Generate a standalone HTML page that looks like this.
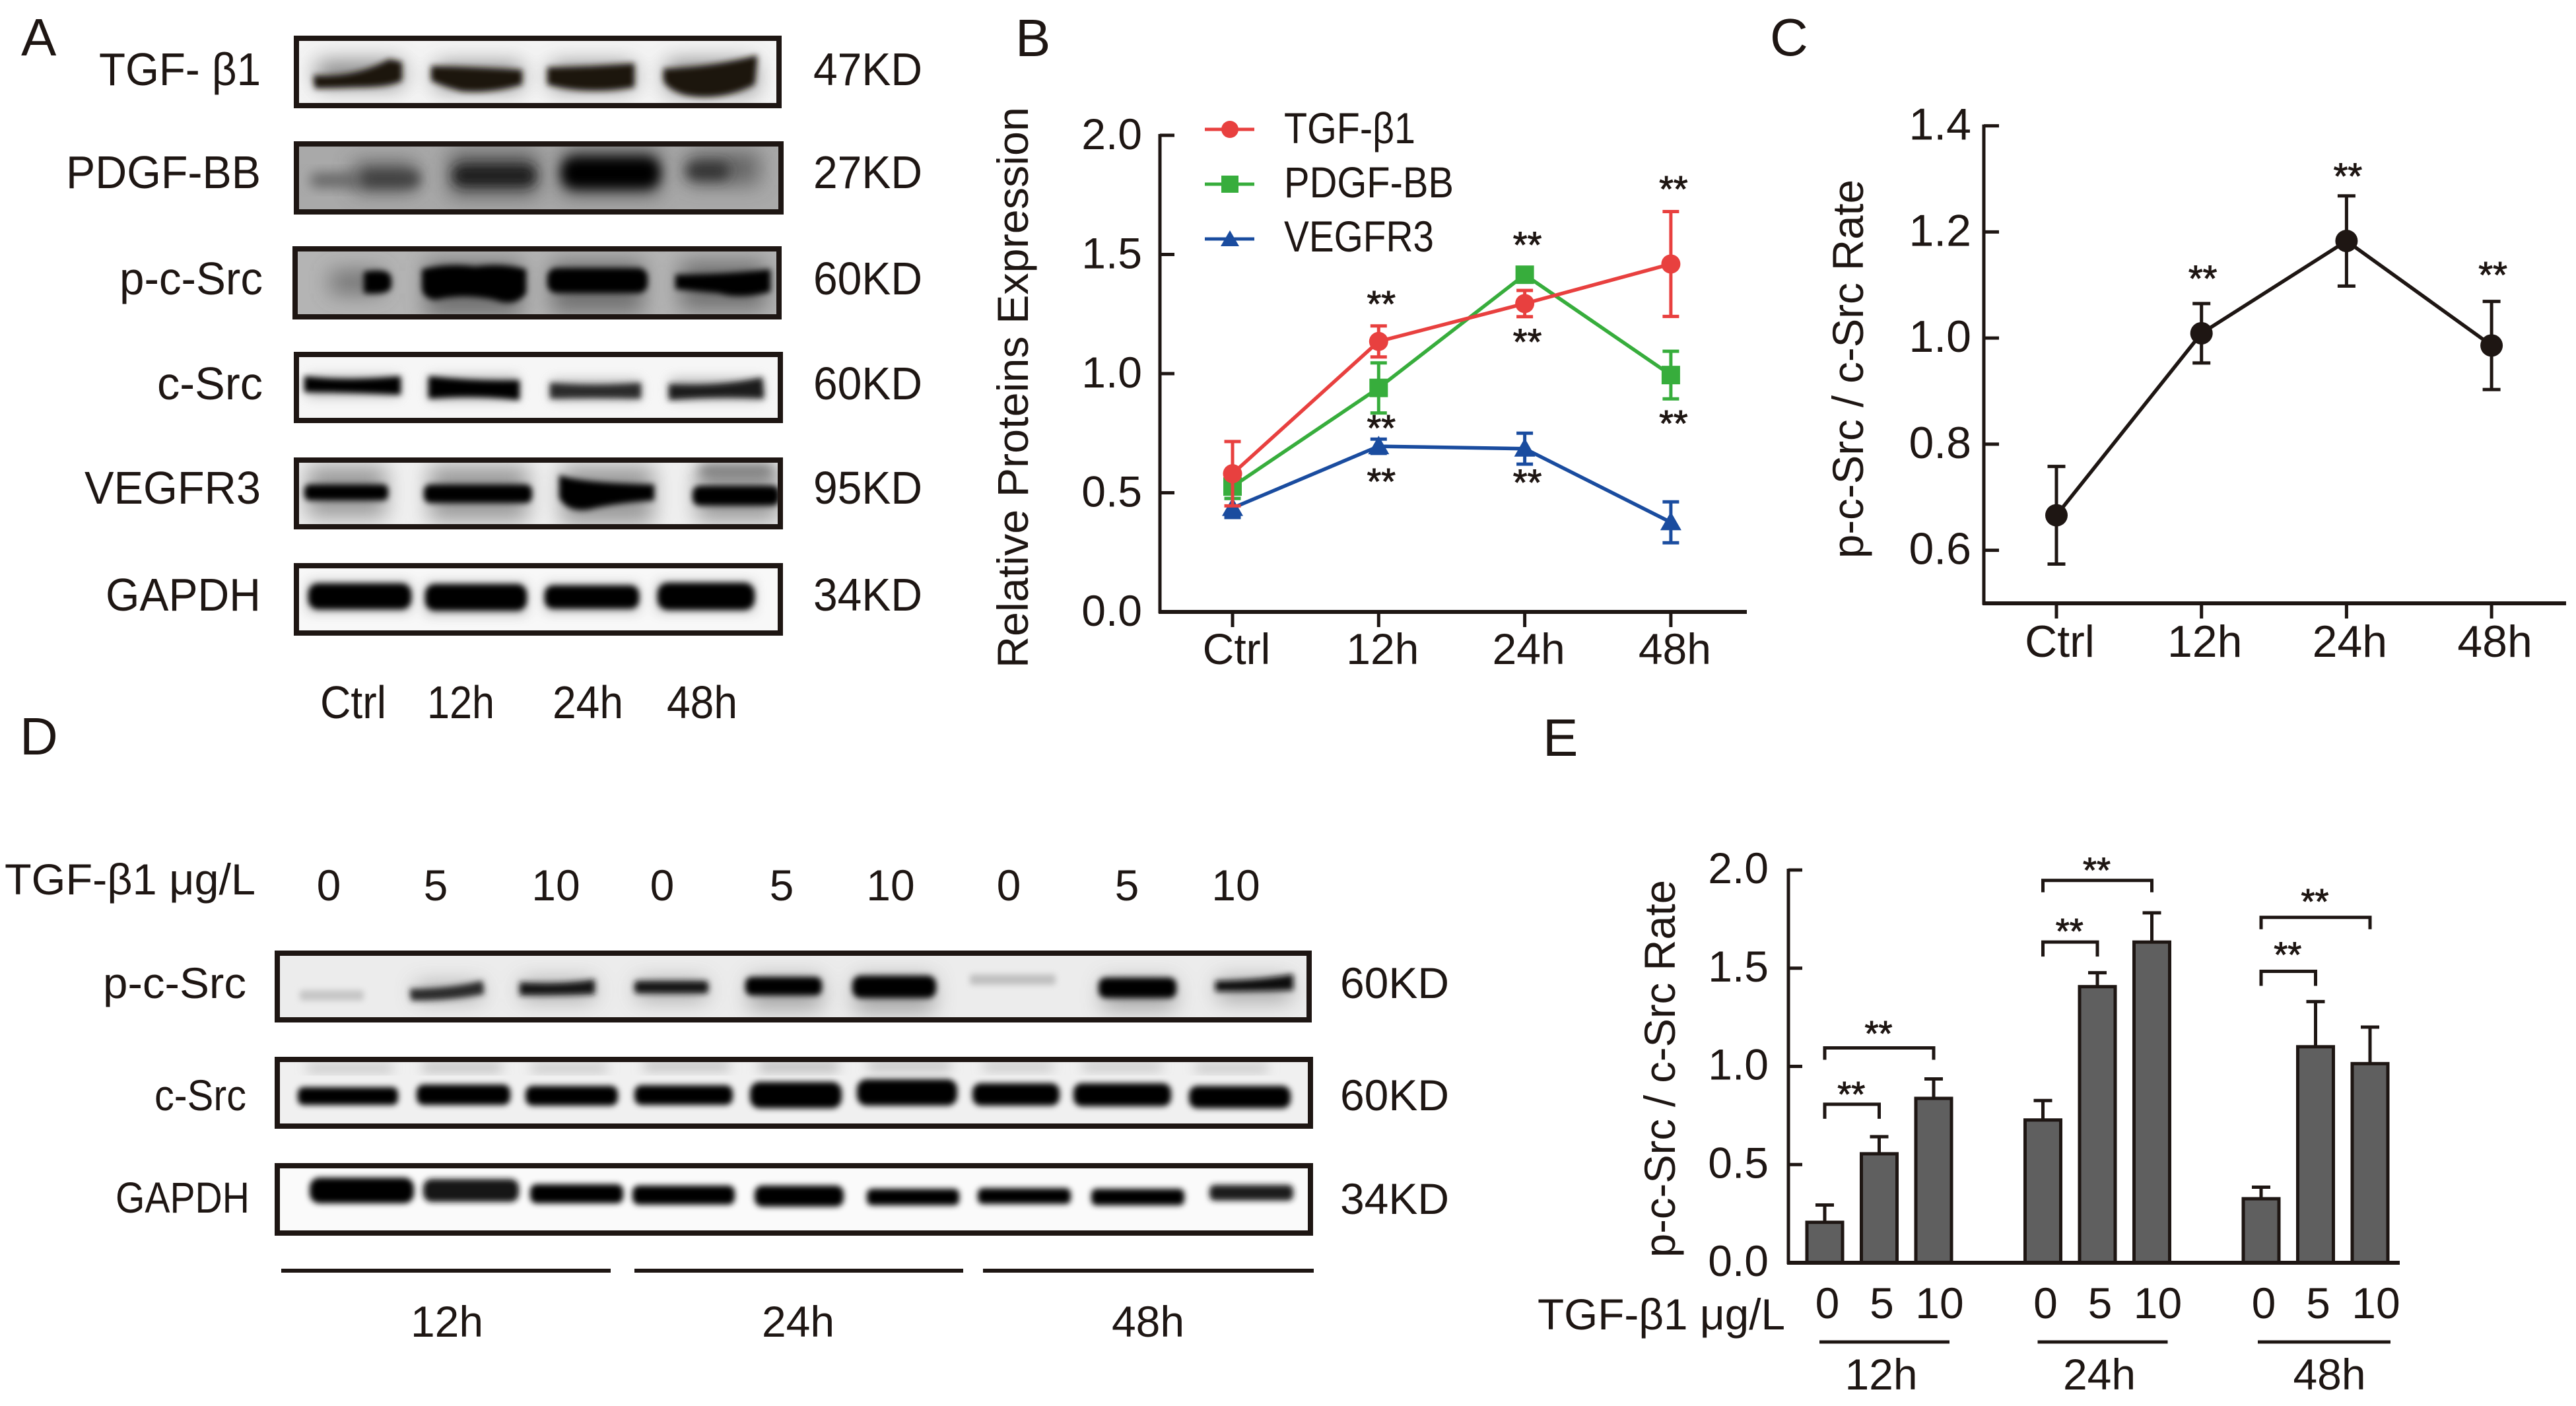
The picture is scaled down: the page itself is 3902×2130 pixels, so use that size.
<!DOCTYPE html>
<html lang="en">
<head>
<meta charset="utf-8">
<title>Western blot and quantification figure</title>
<style>
html,body{margin:0;padding:0;background:#fff;}
svg{display:block;}
text{font-family:"Liberation Sans","DejaVu Sans",sans-serif;fill:#1e1613;}
.f{fill:none;stroke:#1e1613;stroke-width:8;}
.k{fill:#050404;}
.h{fill:#5a5a5a;}
</style>
</head>
<body>
<svg id="fig" xmlns="http://www.w3.org/2000/svg" width="3902" height="2130" viewBox="0 0 3902 2130">
<defs>
<filter id="bs" x="-30%" y="-100%" width="160%" height="300%"><feGaussianBlur stdDeviation="16"/></filter>
<filter id="bm" x="-20%" y="-60%" width="140%" height="220%"><feGaussianBlur stdDeviation="9"/></filter>
<filter id="bc" x="-10%" y="-40%" width="120%" height="180%"><feMorphology operator="dilate" radius="1 4"/><feGaussianBlur stdDeviation="4.5"/></filter>
<clipPath id="ca1"><rect x="446" y="54" width="738" height="110"/></clipPath>
<clipPath id="ca2"><rect x="445" y="214" width="742" height="110"/></clipPath>
<clipPath id="ca3"><rect x="443" y="373" width="741" height="110"/></clipPath>
<clipPath id="ca4"><rect x="446" y="533" width="740" height="107"/></clipPath>
<clipPath id="ca5"><rect x="446" y="693" width="740" height="108"/></clipPath>
<clipPath id="ca6"><rect x="446" y="853" width="740" height="110"/></clipPath>
<clipPath id="cd1"><rect x="416" y="1440" width="1571" height="109"/></clipPath>
<clipPath id="cd2"><rect x="416" y="1601" width="1573" height="109"/></clipPath>
<clipPath id="cd3"><rect x="416" y="1762" width="1573" height="110"/></clipPath>
</defs>
<rect width="3902" height="2130" fill="#fff"/>

<!-- Panel letters -->
<text x="32" y="84" font-size="80">A</text>
<text x="1538" y="85" font-size="80">B</text>
<text x="2681" y="84" font-size="80">C</text>
<text x="30" y="1143" font-size="80">D</text>
<text x="2337" y="1145" font-size="80">E</text>

<!-- Panel A blots -->
<g>
 <g>
  <g clip-path="url(#ca1)">
   <rect x="446" y="54" width="738" height="110" fill="#f4f4f4"/>
   <g filter="url(#bs)" class="h" opacity=".7">
    <rect x="480" y="92" width="130" height="40"/><rect x="660" y="96" width="130" height="40"/><rect x="835" y="96" width="125" height="40"/><rect x="1010" y="92" width="135" height="50"/>
   </g>
   <g filter="url(#bc)" fill="#1e1410">
    <path d="M476 118 Q540 122 590 94 L608 98 L608 118 Q590 128 540 128 L478 130Z"/>
    <path d="M654 104 Q720 106 790 110 L790 124 Q740 138 700 134 Q670 126 654 118Z"/>
    <path d="M830 106 Q890 106 960 100 L960 128 Q890 140 830 124Z"/>
    <path d="M1006 108 Q1080 106 1146 88 L1142 124 Q1090 150 1040 140 Q1012 132 1006 118Z"/>
   </g>
  </g>
  <rect class="f" x="449" y="58" width="731" height="102"/>
 </g>
 <g>
  <g clip-path="url(#ca2)">
   <rect x="445" y="214" width="742" height="110" fill="#a9a9a9"/>
   <g filter="url(#bs)" fill="#4c4c4c" opacity=".75">
    <rect x="535" y="245" width="95" height="45"/><rect x="680" y="228" width="135" height="70"/><rect x="850" y="222" width="150" height="75"/><rect x="1040" y="230" width="110" height="50"/>
   </g>
   <g filter="url(#bm)" fill="#666"><rect x="470" y="262" width="80" height="22" rx="10"/></g>
   <g filter="url(#bm)">
    <rect x="546" y="258" width="90" height="26" rx="12" fill="#404040"/>
    <rect x="686" y="250" width="126" height="32" rx="14" fill="#1a1a1a"/>
    <rect x="850" y="238" width="150" height="48" rx="20" fill="#050505"/>
    <rect x="1040" y="246" width="64" height="26" rx="12" fill="#333"/>
   </g>
  </g>
  <rect class="f" x="449" y="218" width="734" height="103"/>
 </g>
 <g>
  <g clip-path="url(#ca3)">
   <rect x="443" y="373" width="741" height="110" fill="#b4b4b4"/>
   <g filter="url(#bs)" fill="#5c5c5c" opacity=".75">
    <rect x="645" y="395" width="145" height="85"/><rect x="835" y="395" width="140" height="80"/><rect x="1030" y="395" width="130" height="75"/><rect x="500" y="410" width="80" height="35"/>
   </g>
   <g filter="url(#bc)" class="k">
    <path d="M552 416 Q592 408 592 428 Q592 444 552 440Z"/>
    <path d="M640 412 Q680 402 720 408 Q760 402 796 412 L796 440 Q780 462 750 450 Q700 440 660 450 Q640 448 640 430Z"/>
    <rect x="830" y="410" width="150" height="30" rx="14"/>
    <path d="M1024 420 Q1100 420 1166 412 L1166 438 Q1120 450 1090 440 L1024 434Z"/>
   </g>
  </g>
  <rect class="f" x="447" y="377" width="733" height="103"/>
 </g>
 <g>
  <g clip-path="url(#ca4)">
   <rect x="446" y="533" width="740" height="107" fill="#f6f6f6"/>
   <g filter="url(#bm)" fill="#8f8f8f" opacity=".65">
    <rect x="465" y="570" width="140" height="30"/><rect x="650" y="570" width="135" height="36"/><rect x="835" y="576" width="135" height="30"/><rect x="1015" y="574" width="140" height="32"/>
   </g>
   <g filter="url(#bc)" class="k">
    <path d="M462 574 Q520 582 606 574 L606 594 Q530 590 462 590Z"/>
    <path d="M650 574 Q720 582 786 580 L786 602 Q720 594 650 600Z"/>
    <path d="M834 584 Q900 590 970 584 L970 600 Q900 598 834 600Z" fill="#2a2a2a"/>
    <path d="M1014 586 Q1090 590 1154 576 L1156 600 Q1090 596 1014 602Z" fill="#1c1c1c"/>
   </g>
  </g>
  <rect class="f" x="449" y="537" width="733" height="100"/>
 </g>
 <g>
  <g clip-path="url(#ca5)">
   <rect x="446" y="693" width="740" height="108" fill="#f0f0f0"/>
   <g filter="url(#bs)" fill="#777" opacity=".7">
    <rect x="465" y="705" width="120" height="80"/><rect x="650" y="705" width="150" height="85"/><rect x="850" y="705" width="140" height="90"/><rect x="1055" y="705" width="125" height="85"/>
   </g>
   <g filter="url(#bm)" fill="#6a6a6a"><rect x="1060" y="706" width="110" height="14"/></g>
   <g filter="url(#bc)" class="k">
    <rect x="462" y="738" width="125" height="16" rx="8"/>
    <rect x="643" y="738" width="162" height="20" rx="10"/>
    <path d="M848 724 Q880 736 990 738 L990 754 Q930 758 890 768 Q860 772 848 750Z"/>
    <rect x="1050" y="740" width="130" height="22" rx="11"/>
   </g>
  </g>
  <rect class="f" x="449" y="697" width="733" height="101"/>
 </g>
 <g>
  <g clip-path="url(#ca6)">
   <rect x="446" y="853" width="740" height="110" fill="#f8f8f8"/>
   <g filter="url(#bm)" fill="#6a6a6a" opacity=".5">
    <rect x="467" y="882" width="155" height="44"/><rect x="645" y="884" width="152" height="46"/><rect x="826" y="886" width="141" height="40"/><rect x="996" y="882" width="146" height="44"/>
   </g>
   <g filter="url(#bc)" class="k">
    <rect x="468" y="888" width="154" height="31" rx="15"/>
    <rect x="645" y="889" width="152" height="32" rx="15"/>
    <rect x="826" y="891" width="141" height="27" rx="13"/>
    <rect x="997" y="887" width="145" height="33" rx="16"/>
   </g>
  </g>
  <rect class="f" x="449" y="857" width="733" height="102"/>
 </g>
</g>

<g font-size="70">
 <text x="150" y="129" textLength="245" lengthAdjust="spacingAndGlyphs">TGF- β1</text>
 <text x="100" y="285" textLength="295" lengthAdjust="spacingAndGlyphs">PDGF-BB</text>
 <text x="181" y="446" textLength="217" lengthAdjust="spacingAndGlyphs">p-c-Src</text>
 <text x="238" y="605" textLength="160" lengthAdjust="spacingAndGlyphs">c-Src</text>
 <text x="128" y="763" textLength="267" lengthAdjust="spacingAndGlyphs">VEGFR3</text>
 <text x="160" y="925" textLength="235" lengthAdjust="spacingAndGlyphs">GAPDH</text>
 <text x="1232" y="129" textLength="165" lengthAdjust="spacingAndGlyphs">47KD</text>
 <text x="1232" y="285" textLength="165" lengthAdjust="spacingAndGlyphs">27KD</text>
 <text x="1232" y="446" textLength="165" lengthAdjust="spacingAndGlyphs">60KD</text>
 <text x="1232" y="605" textLength="165" lengthAdjust="spacingAndGlyphs">60KD</text>
 <text x="1232" y="763" textLength="165" lengthAdjust="spacingAndGlyphs">95KD</text>
 <text x="1232" y="925" textLength="165" lengthAdjust="spacingAndGlyphs">34KD</text>
 <text x="485" y="1088" textLength="100" lengthAdjust="spacingAndGlyphs">Ctrl</text>
 <text x="647" y="1088" textLength="102" lengthAdjust="spacingAndGlyphs">12h</text>
 <text x="837" y="1088" textLength="107" lengthAdjust="spacingAndGlyphs">24h</text>
 <text x="1010" y="1088" textLength="107" lengthAdjust="spacingAndGlyphs">48h</text>
</g>

<!-- Panel D blots -->
<g>
 <g>
  <g clip-path="url(#cd1)">
   <rect x="416" y="1440" width="1571" height="109" fill="#ececec"/>
   <g filter="url(#bs)" fill="#8a8a8a" opacity=".7">
    <rect x="630" y="1490" width="100" height="25"/><rect x="790" y="1485" width="110" height="30"/><rect x="965" y="1485" width="105" height="30"/><rect x="1135" y="1480" width="110" height="50"/><rect x="1295" y="1480" width="120" height="55"/><rect x="1670" y="1485" width="110" height="45"/><rect x="1845" y="1482" width="110" height="35"/>
   </g>
   <g filter="url(#bc)">
    <rect x="455" y="1504" width="95" height="8" rx="4" fill="#c6c6c6"/>
    <path d="M622 1502 Q680 1502 730 1490 L732 1502 Q680 1512 624 1512Z" fill="#2b2b2b"/>
    <path d="M788 1492 Q850 1496 900 1488 L900 1502 Q850 1504 788 1504Z" fill="#151515"/>
    <rect x="962" y="1490" width="110" height="11" rx="5" fill="#151515"/>
    <rect x="1130" y="1484" width="114" height="20" rx="10" class="k"/>
    <rect x="1292" y="1482" width="125" height="26" rx="13" class="k"/>
    <rect x="1470" y="1480" width="128" height="8" rx="4" fill="#c0c0c0"/>
    <rect x="1665" y="1485" width="116" height="23" rx="11" class="k"/>
    <path d="M1842 1490 Q1900 1490 1958 1480 L1958 1496 Q1900 1498 1842 1498Z" fill="#111"/>
   </g>
  </g>
  <rect class="f" x="420" y="1444" width="1563" height="101"/>
 </g>
 <g>
  <g clip-path="url(#cd2)">
   <rect x="416" y="1601" width="1573" height="109" fill="#f0f0f0"/>
   <g filter="url(#bm)" fill="#a8a8a8">
    <rect x="465" y="1614" width="130" height="8"/><rect x="640" y="1612" width="120" height="10"/><rect x="805" y="1614" width="115" height="8"/><rect x="975" y="1610" width="130" height="10"/><rect x="1150" y="1610" width="120" height="12"/><rect x="1315" y="1610" width="125" height="10"/><rect x="1490" y="1612" width="105" height="8"/><rect x="1640" y="1612" width="120" height="8"/><rect x="1810" y="1614" width="110" height="8"/>
   </g>
   <g filter="url(#bc)" class="k">
    <rect x="452" y="1651" width="150" height="19" rx="9"/>
    <rect x="632" y="1647" width="140" height="23" rx="11"/>
    <rect x="797" y="1649" width="138" height="22" rx="11"/>
    <rect x="962" y="1648" width="147" height="22" rx="11"/>
    <rect x="1137" y="1643" width="137" height="32" rx="15"/>
    <rect x="1299" y="1639" width="150" height="32" rx="15"/>
    <rect x="1474" y="1645" width="130" height="26" rx="13"/>
    <rect x="1627" y="1645" width="146" height="27" rx="13"/>
    <rect x="1802" y="1649" width="152" height="26" rx="13"/>
   </g>
  </g>
  <rect class="f" x="420" y="1605" width="1565" height="101"/>
 </g>
 <g>
  <g clip-path="url(#cd3)">
   <rect x="416" y="1762" width="1573" height="110" fill="#fafafa"/>
   <g filter="url(#bc)" class="k">
    <rect x="470" y="1788" width="156" height="31" rx="15"/>
    <rect x="642" y="1790" width="143" height="27" rx="13" fill="#141414"/>
    <rect x="804" y="1798" width="139" height="21" rx="10"/>
    <rect x="959" y="1800" width="153" height="21" rx="10"/>
    <rect x="1144" y="1800" width="133" height="24" rx="12"/>
    <rect x="1314" y="1805" width="138" height="17" rx="8"/>
    <rect x="1482" y="1804" width="139" height="16" rx="8"/>
    <rect x="1654" y="1805" width="139" height="17" rx="8"/>
    <rect x="1833" y="1799" width="125" height="16" rx="8" fill="#1c1c1c"/>
   </g>
  </g>
  <rect class="f" x="420" y="1766" width="1565" height="102"/>
 </g>
</g>

<g font-size="66">
 <text x="7" y="1355" textLength="380" lengthAdjust="spacingAndGlyphs">TGF-β1 μg/L</text>
 <text x="498" y="1364" text-anchor="middle">0</text>
 <text x="660" y="1364" text-anchor="middle">5</text>
 <text x="842" y="1364" text-anchor="middle">10</text>
 <text x="1003" y="1364" text-anchor="middle">0</text>
 <text x="1184" y="1364" text-anchor="middle">5</text>
 <text x="1349" y="1364" text-anchor="middle">10</text>
 <text x="1528" y="1364" text-anchor="middle">0</text>
 <text x="1707" y="1364" text-anchor="middle">5</text>
 <text x="1872" y="1364" text-anchor="middle">10</text>
 <text x="156" y="1512" textLength="217" lengthAdjust="spacingAndGlyphs">p-c-Src</text>
 <text x="234" y="1682" textLength="139" lengthAdjust="spacingAndGlyphs">c-Src</text>
 <text x="175" y="1837" textLength="203" lengthAdjust="spacingAndGlyphs">GAPDH</text>
 <text x="2030" y="1512" textLength="165" lengthAdjust="spacingAndGlyphs">60KD</text>
 <text x="2030" y="1682" textLength="165" lengthAdjust="spacingAndGlyphs">60KD</text>
 <text x="2030" y="1839" textLength="165" lengthAdjust="spacingAndGlyphs">34KD</text>
 <text x="677" y="2025" text-anchor="middle">12h</text>
 <text x="1209" y="2025" text-anchor="middle">24h</text>
 <text x="1739" y="2025" text-anchor="middle">48h</text>
</g>
<g stroke="#1e1613" stroke-width="6">
 <line x1="426" x2="925" y1="1925" y2="1925"/>
 <line x1="961" x2="1459" y1="1925" y2="1925"/>
 <line x1="1489" x2="1990" y1="1925" y2="1925"/>
</g>

<!-- Chart groups filled by script -->
<g id="chart-b">
 <text x="0" y="0" font-size="66" transform="translate(1557 1012) rotate(-90)" textLength="850" lengthAdjust="spacingAndGlyphs">Relative Proteins Expression</text>
</g>
<g>
 <g>
  <line x1="1825" x2="1900" y1="196" y2="196" stroke="#e8403f" stroke-width="5"/>
  <circle cx="1863" cy="196" r="13" fill="#e8403f"/>
  <text x="1945" y="217" font-size="66" textLength="199" lengthAdjust="spacingAndGlyphs">TGF-β1</text>
 </g>
 <g>
  <line x1="1825" x2="1900" y1="279" y2="279" stroke="#37ad3c" stroke-width="5"/>
  <rect x="1850" y="266" width="26" height="26" fill="#37ad3c"/>
  <text x="1945" y="299" font-size="66" textLength="257" lengthAdjust="spacingAndGlyphs">PDGF-BB</text>
 </g>
 <g>
  <line x1="1825" x2="1900" y1="362" y2="362" stroke="#1a4c9f" stroke-width="5"/>
  <polygon points="1863,349 1877,373 1849,373" fill="#1a4c9f"/>
  <text x="1945" y="381" font-size="66" textLength="227" lengthAdjust="spacingAndGlyphs">VEGFR3</text>
 </g>
</g>
<g id="chart-c">
 <text x="0" y="0" font-size="66" transform="translate(2822 846) rotate(-90)" textLength="574" lengthAdjust="spacingAndGlyphs">p-c-Src / c-Src Rate</text>
</g>
<g id="chart-e">
 <text x="0" y="0" font-size="66" transform="translate(2537 1905) rotate(-90)" textLength="572" lengthAdjust="spacingAndGlyphs">p-c-Src / c-Src Rate</text>
 <text x="2329" y="2014" font-size="66" textLength="375" lengthAdjust="spacingAndGlyphs">TGF-β1 μg/L</text>
</g>

<script>
// Chart B data
const bCategories = ['Ctrl', '12h', '24h', '48h'];
const bTickValues = [0, 0.5, 1, 1.5, 2];
const bTickLabels = ['0.0', '0.5', '1.0', '1.5', '2.0'];
const bTgf = [0.58, 1.135, 1.294, 1.46];
const bTgfErr = [0.135, 0.065, 0.055, 0.22];
const bPdgf = [0.526, 0.94, 1.415, 0.994];
const bPdgfErr = [0.05, 0.105, 0.02, 0.1];
const bVegfr = [0.436, 0.695, 0.685, 0.376];
const bVegfrErr = [0.04, 0.03, 0.065, 0.086];
const bStarCats = [1, 2, 2, 3, 1, 1, 2, 3];
const bStarLevels = [1.309, 1.556, 1.15, 1.79, 0.788, 0.564, 0.56, 0.807];

// Chart C data
const cCategories = ['Ctrl', '12h', '24h', '48h'];
const cTickValues = [0.6, 0.8, 1.0, 1.2, 1.4];
const cTickLabels = ['0.6', '0.8', '1.0', '1.2', '1.4'];
const cRate = [0.666, 1.009, 1.183, 0.986];
const cRateErr = [0.092, 0.056, 0.085, 0.083];
const cStarCats = [1, 2, 3];
const cStarLevels = [1.117, 1.31, 1.124];

// Chart E data
const eGroups = ['12h', '24h', '48h'];
const eDoses = ['0', '5', '10'];
const eTickValues = [0, 0.5, 1, 1.5, 2];
const eTickLabels = ['0.0', '0.5', '1.0', '1.5', '2.0'];
const eRate12h = [0.206, 0.555, 0.837];
const eRate24h = [0.727, 1.406, 1.633];
const eRate48h = [0.326, 1.10, 1.014];
const eErr12h = [0.088, 0.087, 0.099];
const eErr24h = [0.099, 0.071, 0.149];
const eErr48h = [0.059, 0.23, 0.186];
const eBracketGroups = [0, 0, 1, 1, 2, 2];
const eBracketEnds = [1, 2, 1, 2, 1, 2];
const eBracketLevels = [0.807, 1.094, 1.633, 1.947, 1.484, 1.759];
const eStarLevels = [0.883, 1.193, 1.713, 2.025, 1.594, 1.865];

const NS = 'http://www.w3.org/2000/svg';
const INK = '#1e1613';
function mk(tag, parent, attrs) {
  const el = document.createElementNS(NS, tag);
  for (const k in attrs) el.setAttribute(k, attrs[k]);
  parent.appendChild(el);
  return el;
}
function txt(parent, x, y, str, anchor, size) {
  const el = mk('text', parent, {x: x, y: y, 'text-anchor': anchor, 'font-size': size});
  el.textContent = str;
  return el;
}
function seg(parent, x1, y1, x2, y2, color, w) {
  return mk('line', parent, {x1: x1, y1: y1, x2: x2, y2: y2, stroke: color, 'stroke-width': w});
}
function errorBar(parent, x, yTop, yBot, color, cap, w) {
  const g = mk('g', parent, {});
  seg(g, x, yTop, x, yBot, color, w);
  seg(g, x - cap / 2, yTop, x + cap / 2, yTop, color, w);
  seg(g, x - cap / 2, yBot, x + cap / 2, yBot, color, w);
  return g;
}
function stars(parent, cx, cy, size, dy) {
  const el = txt(parent, cx, cy + size * 0.57 + dy, '**', 'middle', size);
  el.setAttribute('stroke', INK);
  el.setAttribute('stroke-width', '1');
  return el;
}

// ---------- Chart B ----------
(function () {
  const g = document.getElementById('chart-b');
  const x = i => 1867 + 221.3 * i;
  const y = v => 927 - v * 361;
  const yAxis = seg(g, 1757, y(2) - 2, 1757, y(0) + 2, INK, 5);
  
  
  const xAxis = seg(g, 1755, y(0), 2646, y(0), INK, 6);
  
  
  bTickValues.forEach((v, i) => {
    const t = seg(g, 1757, y(v), 1779, y(v), INK, 5);
    
    
    const l = txt(g, 1730, y(v) + 21, bTickLabels[i], 'end', 66);
    
    
  });
  bCategories.forEach((c, i) => {
    const t = seg(g, x(i), y(0), x(i), 950, INK, 5);
    
    
    const l = txt(g, x(i) + 6, 1006, c, 'middle', 66);
    
    
  });
  function series(name, vals, errs, color, shape) {
    const s = mk('g', g, {});
    
    
    const line = mk('polyline', s, {fill: 'none', stroke: color, 'stroke-width': 5.5, points: vals.map((v, i) => x(i) + ',' + y(v)).join(' ')});
    
    
    vals.forEach((v, i) => {
      const e = errorBar(s, x(i), y(v + errs[i]), y(v - errs[i]), color, 25, 5);
      
      
      let m;
      if (shape === 'circle') m = mk('circle', s, {cx: x(i), cy: y(v), r: 14.5, fill: color});
      if (shape === 'square') m = mk('rect', s, {x: x(i) - 14, y: y(v) - 14, width: 28, height: 28, fill: color});
      if (shape === 'triangle') m = mk('polygon', s, {points: (x(i)) + ',' + (y(v) - 16) + ' ' + (x(i) + 16) + ',' + (y(v) + 12) + ' ' + (x(i) - 16) + ',' + (y(v) + 12), fill: color});
      
      
    });
  }
  series('vegfr3', bVegfr, bVegfrErr, '#1a4c9f', 'triangle');
  series('pdgf-bb', bPdgf, bPdgfErr, '#37ad3c', 'square');
  series('tgf-beta1', bTgf, bTgfErr, '#e8403f', 'circle');
  bStarLevels.forEach((v, i) => {
    const s = stars(g, x(bStarCats[i]) + 4, y(v), 56, -7);
    
    
  });
})();

// ---------- Chart C ----------
(function () {
  const g = document.getElementById('chart-c');
  const x = i => 3115 + 219.7 * i;
  const y = v => 914 - (v - 0.5) * 803.75;
  const yAxis = seg(g, 3005, y(1.4) - 2, 3005, y(0.5) + 2, INK, 5);
  
  
  const xAxis = seg(g, 3003, y(0.5), 3887, y(0.5), INK, 6);
  
  
  cTickValues.forEach((v, i) => {
    const t = seg(g, 3005, y(v), 3028, y(v), INK, 5);
    
    
    const l = txt(g, 2986, y(v) + 21, cTickLabels[i], 'end', 68);
    
    
  });
  cCategories.forEach((c, i) => {
    const t = seg(g, x(i), y(0.5), x(i), 937, INK, 5);
    
    
    const l = txt(g, x(i) + 5, 995, c, 'middle', 68);
    
    
  });
  const line = mk('polyline', g, {fill: 'none', stroke: INK, 'stroke-width': 5.5, points: cRate.map((v, i) => x(i) + ',' + y(v)).join(' ')});
  
  
  cRate.forEach((v, i) => {
    const e = errorBar(g, x(i), y(v + cRateErr[i]), y(v - cRateErr[i]), INK, 27, 5);
    
    
    const m = mk('circle', g, {cx: x(i), cy: y(v), r: 17, fill: INK});
    
    
  });
  cStarLevels.forEach((v, i) => {
    const s = stars(g, x(cStarCats[i]) + 2, y(v), 56, -9);
    
    
  });
})();

// ---------- Chart E ----------
(function () {
  const g = document.getElementById('chart-e');
  const x = (grp, d) => 2764 + grp * 330.5 + d * 82.5;
  const y = v => 1913 - v * 297.5;
  const rates = [eRate12h, eRate24h, eRate48h];
  const errs = [eErr12h, eErr24h, eErr48h];
  const yAxis = seg(g, 2709, y(2) - 2, 2709, y(0) + 2, INK, 5);
  
  
  eTickValues.forEach((v, i) => {
    const t = seg(g, 2709, y(v), 2730, y(v), INK, 5);
    
    
    const l = txt(g, 2679, y(v) + 20, eTickLabels[i], 'end', 66);
    
    
  });
  eGroups.forEach((name, gi) => {
    rates[gi].forEach((v, di) => {
      const cx = x(gi, di);
      const e = seg(g, cx, y(v), cx, y(v + errs[gi][di]), INK, 5);
      
      
      const c = seg(g, cx - 14, y(v + errs[gi][di]), cx + 14, y(v + errs[gi][di]), INK, 5);
      
      
      const b = mk('rect', g, {x: cx - 27, y: y(v), width: 54, height: y(0) - y(v), fill: '#5f5f5f', stroke: INK, 'stroke-width': 5});
      
      
      const l = txt(g, cx + (di === 2 ? 9 : 4), 1997, eDoses[di], 'middle', 66);
      
      
    });
    const rule = seg(g, x(gi, 0) - 8 + (gi === 2 ? 3 : 0), 2033, x(gi, 2) + 24 + (gi === 2 ? 7 : 0), 2033, INK, 5);
    
    
    const gl = txt(g, x(gi, 1) + 3 + (gi === 2 ? 18 : 0), 2105, name, 'middle', 66);
    
    
  });
  const xAxis = seg(g, 2707, y(0), 3635, y(0), INK, 6);
  
  
  eBracketLevels.forEach((v, i) => {
    const x1 = x(eBracketGroups[i], 0);
    const x2 = x(eBracketGroups[i], eBracketEnds[i]);
    const yb = y(v);
    const legL = i % 2 === 0 ? 22 : 18;
    const br = mk('path', g, {fill: 'none', stroke: INK, 'stroke-width': 5, d: 'M' + x1 + ' ' + (yb + legL) + 'V' + yb + 'H' + x2 + 'V' + (yb + legL)});
    
    
    const s = stars(g, (x1 + x2) / 2 - 1, y(eStarLevels[i]), 54, -5);
    
    
  });
})();
</script>
</svg>
</body>
</html>
